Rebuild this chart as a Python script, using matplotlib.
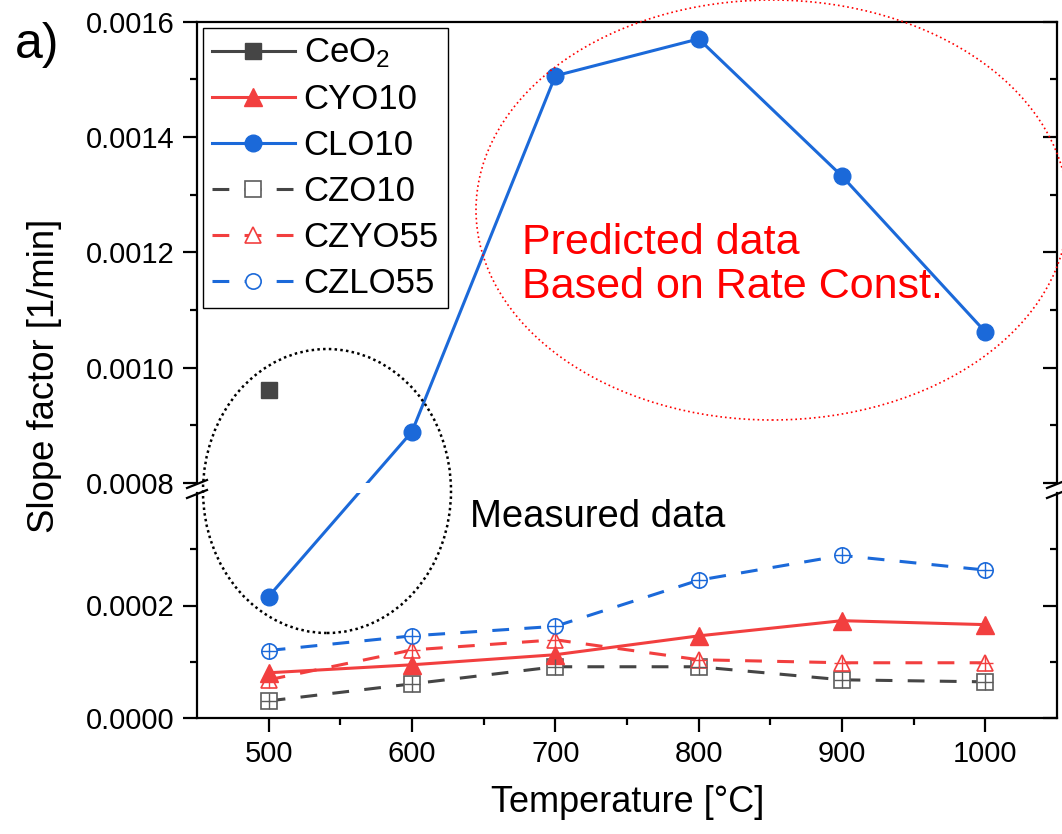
import matplotlib
matplotlib.use("Agg")
import matplotlib.pyplot as plt
from matplotlib.lines import Line2D
from matplotlib.patches import Ellipse

plt.rcParams['font.family'] = ['Liberation Sans', 'DejaVu Sans']
plt.rcParams['mathtext.default'] = 'regular'

# data
temps = [500, 600, 700, 800, 900, 1000]
ceo2_t = [500]
ceo2 = [0.000962]
cyo10 = [0.0000804, 0.0000946, 0.0001125, 0.000146, 0.000173, 0.000166]
clo10 = [0.000216, 0.000889, 0.001506, 0.00157, 0.001332, 0.001062]
czo10 = [0.0000304, 0.0000607, 0.0000911, 0.0000911, 0.0000679, 0.0000643]
czyo55 = [0.0000679, 0.000121, 0.000139, 0.0001036, 0.0000982, 0.0000982]
czlo55 = [0.000120, 0.000146, 0.000163, 0.000245, 0.000289, 0.000263]

GRAY = '#454545'
GRAY_OPEN = '#5c5c5c'
RED = '#f23f3f'
BLUE = '#1b69d9'

W, H = 1062, 834
fig = plt.figure(figsize=(W / 100, H / 100), dpi=100)

def fx(px):
    return px / W

def fy(py):
    return 1 - py / H

# upper part 0.0008-0.0016, lower part 0-0.0004
ax_top = fig.add_axes([fx(197), fy(483), fx(1057) - fx(197), fy(21.6) - fy(483)])
ax_bot = fig.add_axes([fx(197), fy(718), fx(1057) - fx(197), fy(493) - fy(718)])

lw = 2.2
dash = (0, (5.5, 5))
ms = 11

# lower axes series
ax_bot.plot(temps, cyo10, '-', color=RED, lw=lw, marker='^', ms=13, label='CYO10', zorder=4)
ax_bot.plot(temps[:1], clo10[:1], 'o', color=BLUE, ms=12, zorder=4)
for vals, col, mk, lab in [(czo10, GRAY, 's', 'CZO10'),
                           (czyo55, RED, '^', 'CZYO55'),
                           (czlo55, BLUE, 'o', 'CZLO55')]:
    mec = GRAY_OPEN if col == GRAY else col
    ax_bot.plot(temps, vals, color=col, lw=lw, linestyle=dash, marker=mk, ms=ms,
                mfc='white', mec=mec, mew=1.2, label=lab, zorder=3)
    ax_bot.plot(temps, vals, linestyle='none', marker='+', ms=ms, mec=mec, mew=1.0, zorder=5)

# upper axes series
ax_top.plot(ceo2_t, ceo2, '-', color=GRAY, lw=lw, marker='s', ms=11, label='CeO$_2$', zorder=4)
ax_top.plot(temps[1:], clo10[1:], '-', color=BLUE, lw=lw, marker='o', ms=12, zorder=4)

for ax in (ax_top, ax_bot):
    ax.set_xlim(450, 1050)
    ax.set_xticks([500, 600, 700, 800, 900, 1000])
    ax.set_xticks([550, 650, 750, 850, 950], minor=True)
    for s in ax.spines.values():
        s.set_linewidth(1.6)
    ax.tick_params(axis='both', which='major', length=10, width=1.6, labelsize=21, pad=6)
    ax.tick_params(axis='both', which='minor', length=5, width=1.6)
    ax.tick_params(axis='y', which='both', left=True, right=True, direction='out')
    ax.yaxis.set_major_formatter(matplotlib.ticker.FormatStrFormatter('%.4f'))

ax_top.set_ylim(0.0008, 0.0016)
ax_top.set_yticks([0.0008, 0.0010, 0.0012, 0.0014, 0.0016])
ax_top.set_yticks([0.0009, 0.0011, 0.0013, 0.0015], minor=True)
ax_top.spines['bottom'].set_visible(False)
ax_top.tick_params(axis='x', which='both', bottom=False, labelbottom=False)

ax_bot.set_ylim(0, 0.0004)
ax_bot.set_yticks([0.0000, 0.0002])
ax_bot.set_yticks([0.0001, 0.0003], minor=True)
ax_bot.spines['top'].set_visible(False)
ax_bot.tick_params(axis='x', which='both', direction='out')

# right side ticks point inward
for ax in (ax_top, ax_bot):
    for t in ax.yaxis.get_major_ticks() + ax.yaxis.get_minor_ticks():
        t.tick2line.set_marker(matplotlib.lines.TICKLEFT)

# CLO10 500 -> 600 crosses the break: straight line in pixel space
p1 = ax_bot.transData.transform((temps[0], clo10[0]))
p2 = ax_top.transData.transform((temps[1], clo10[1]))
pf = fig.transFigure.inverted().transform([p1, p2])
for ax in (ax_top, ax_bot):
    seg = Line2D(pf[:, 0], pf[:, 1], color=BLUE, lw=lw, transform=fig.transFigure, zorder=3)
    seg.set_clip_path(ax.patch)
    fig.add_artist(seg)

# break marks
for xc in (197, 1057):
    for yc in (484, 494):
        fig.add_artist(Line2D([fx(xc - 10), fx(xc + 10)], [fy(yc + 4), fy(yc - 4)],
                              color='black', lw=1.6, transform=fig.transFigure))

# legend
leg = ax_top.legend(handles=[ax_top.lines[0], ax_bot.lines[0], ax_top.lines[1],
                             ax_bot.lines[2], ax_bot.lines[4], ax_bot.lines[6]],
                    labels=['CeO$_2$', 'CYO10', 'CLO10', 'CZO10', 'CZYO55', 'CZLO55'],
                    loc='upper left', bbox_to_anchor=(0.007, 0.986), borderaxespad=0,
                    fontsize=25, frameon=True, fancybox=False, edgecolor='black',
                    handlelength=2.4, handletextpad=0.25, labelspacing=0.37,
                    borderpad=0.25, framealpha=1)
leg.get_frame().set_linewidth(1.0)

# annotation ellipses
fig.add_artist(Ellipse((fx(327), fy(491)), fx(248), 284 / H, fill=False,
                       ec='black', lw=1.8, linestyle=(0, (1, 1.3)), transform=fig.transFigure))
fig.add_artist(Ellipse((fx(772), fy(210)), fx(592), 420 / H, fill=False,
                       ec='red', lw=1.2, linestyle=(0, (1, 1.8)), transform=fig.transFigure))

fig.text(fx(522), fy(265), 'Predicted data\nBased on Rate Const.', color='red',
         fontsize=31, ha='left', va='center', linespacing=1.1)
fig.text(fx(470), fy(517), 'Measured data', color='black', fontsize=27.5,
         ha='left', va='center')
fig.text(fx(15), fy(45), 'a)', fontsize=36, ha='left', va='center')
fig.text(fx(45), fy(376), 'Slope factor [1/min]', fontsize=26.3, rotation=90,
         ha='center', va='center')
fig.text(fx(628), fy(803), 'Temperature [\u00b0C]', fontsize=26, ha='center', va='center')

fig.savefig('out.png', dpi=100)
